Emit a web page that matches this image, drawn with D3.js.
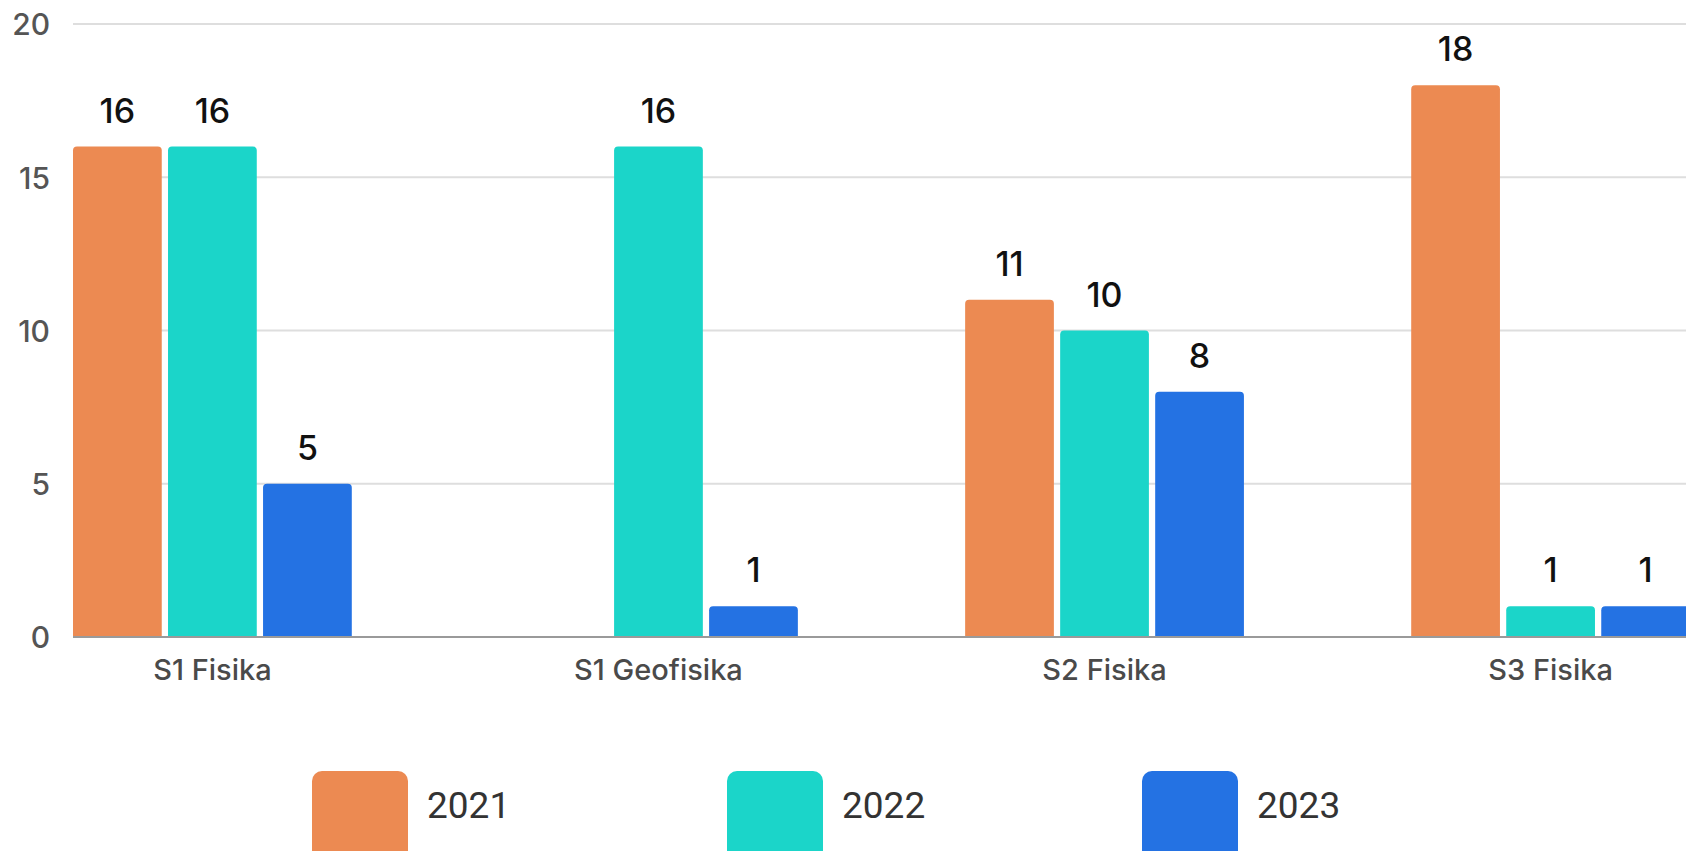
<!DOCTYPE html>
<html>
<head>
<meta charset="utf-8">
<script src="https://cdn.jsdelivr.net/npm/d3@7"></script>
<style>
  html, body { margin: 0; padding: 0; background: #fff; overflow: hidden; }
  svg { display: block; }
</style>
</head>
<body>
<svg id="chart" width="1686" height="851"></svg>
<script>
const categories = ["S1 Fisika", "S1 Geofisika", "S2 Fisika", "S3 Fisika"];
const years = ["2021", "2022", "2023"];
const values2021 = [16, 0, 11, 18];
const values2022 = [16, 16, 10, 1];
const values2023 = [5, 1, 8, 1];
const yTicks = [0, 5, 10, 15, 20];
const colors = ["#ec8a52", "#1bd5c9", "#2472e3"];

const seriesValues = [values2021, values2022, values2023];
const data = categories.map((c, i) => ({
  category: c,
  items: years.map((yr, j) => ({ year: yr, value: seriesValues[j][i], color: colors[j] }))
}));

const W = 1686, H = 851;
const mLeft = 73, mTop = 24, mBottom = 637;
const svg = d3.select("#chart");

const x0 = d3.scaleBand().domain(categories).range([mLeft, 1690]).paddingInner(0.375).paddingOuter(0);
const x1 = d3.scaleBand().domain(years).range([0, x0.bandwidth()]).paddingInner(0.066);
const y = d3.scaleLinear().domain([0, 20]).range([mBottom, mTop]);

const font = "Inter, 'Open Sans', sans-serif";

// gridlines
svg.append("g").selectAll("line").data(yTicks.filter(t => t !== 0)).join("line")
  .attr("x1", mLeft).attr("x2", W)
  .attr("y1", d => y(d)).attr("y2", d => y(d))
  .attr("stroke", "#dedede").attr("stroke-width", 2);

// y tick labels
const yAxis = d3.axisLeft(y).tickValues(yTicks).tickSize(0).tickPadding(0);
const ya = svg.append("g").attr("transform", `translate(50,0)`).call(yAxis);
ya.select(".domain").remove();
ya.selectAll("text").attr("font-family", font).attr("font-size", 30).attr("font-weight", 500)
  .attr("fill", "#555").attr("dy", "0.36em");

// bars
function barPath(xl, w, yt, yb, r) {
  r = Math.min(r, (yb - yt), w / 2);
  return `M${xl},${yb}V${yt + r}Q${xl},${yt} ${xl + r},${yt}H${xl + w - r}Q${xl + w},${yt} ${xl + w},${yt + r}V${yb}Z`;
}
const groups = svg.append("g").selectAll("g").data(data).join("g")
  .attr("transform", d => `translate(${x0(d.category)},0)`);

groups.selectAll("path").data(d => d.items.filter(it => it.value > 0)).join("path")
  .attr("d", d => barPath(x1(d.year), x1.bandwidth(), y(d.value), y(0), 4))
  .attr("fill", d => d.color);

groups.selectAll("text.val").data(d => d.items.filter(it => it.value > 0)).join("text")
  .attr("class", "val")
  .attr("x", d => x1(d.year) + x1.bandwidth() / 2)
  .attr("y", d => y(d.value) - 24)
  .attr("text-anchor", "middle")
  .attr("font-family", font).attr("font-size", 34).attr("font-weight", 500)
  .attr("fill", "#111")
  .text(d => d.value);

// x axis
const xAxis = d3.axisBottom(x0).tickSize(0).tickPadding(0);
const xa = svg.append("g").attr("transform", `translate(0,${mBottom})`).call(xAxis);
xa.select(".domain").remove();
xa.selectAll("text").attr("font-family", font).attr("font-size", 29).attr("font-weight", 500)
  .attr("fill", "#4a4a4a").attr("dy", 0).attr("y", 43);
svg.append("line").attr("x1", mLeft).attr("x2", W).attr("y1", mBottom).attr("y2", mBottom)
  .attr("stroke", "#9a9a9a").attr("stroke-width", 2);

// legend
const legendX = d3.scaleOrdinal().domain(years).range([312, 727, 1142]);
const lg = svg.append("g").selectAll("g").data(years).join("g")
  .attr("transform", d => `translate(${legendX(d)},771)`);
lg.append("rect").attr("width", 96).attr("height", 96).attr("rx", 10)
  .attr("fill", (d, i) => colors[i]);
lg.append("text").attr("x", 115).attr("y", 47)
  .attr("font-family", "Roboto, sans-serif").attr("font-size", 37)
  .attr("fill", "#333").text(d => d);
</script>
</body>
</html>
